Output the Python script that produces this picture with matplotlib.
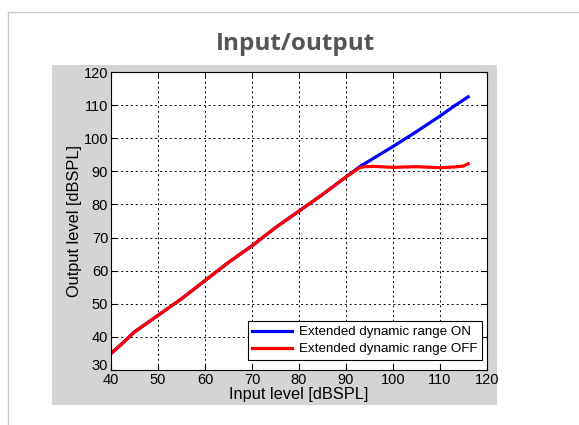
import matplotlib.pyplot as plt
import matplotlib.transforms as mtransforms
from matplotlib.lines import Line2D
from matplotlib.patches import Rectangle

plt.rcParams["font.family"] = ["Liberation Sans", "DejaVu Sans"]

on_x = [40, 42, 45, 50, 55, 60, 65, 70, 75, 80, 85, 90, 93, 95, 100, 105, 110, 113, 116]
on_y = [35, 37.5, 41.5, 46.5, 51.5, 57, 62.5, 67.5, 73, 78, 83, 88.3, 91.5, 93.2, 97.5, 102, 106.7, 109.7, 112.5]
off_x = [40, 42, 45, 50, 55, 60, 65, 70, 75, 80, 85, 90, 93, 94, 96, 100, 105, 110, 113, 115, 116]
off_y = [35, 37.5, 41.5, 46.5, 51.5, 57, 62.5, 67.5, 73, 78, 83, 88.3, 91.2, 91.4, 91.5, 91.2, 91.4, 91.1, 91.3, 91.6, 92.3]

W, H = 579, 425
fig = plt.figure(figsize=(W / 100, H / 100), dpi=100)
fig.patch.set_facecolor("white")

# outer light frame
fig.add_artist(Line2D([8 / W, 1], [1 - 12 / H, 1 - 12 / H], color="#c8c8c8", lw=1))
fig.add_artist(Line2D([8 / W, 8 / W], [0, 1 - 12 / H], color="#c8c8c8", lw=1))

# gray matlab panel
fig.add_artist(Rectangle((52 / W, 1 - 405 / H), (497 - 52) / W, (405 - 65) / H,
                         transform=fig.transFigure, facecolor="#d4d4d4", edgecolor="none", zorder=0))

fig.text(296 / W, 1 - 44 / H, "Input/output", ha="center", va="center",
         fontsize=17.5, fontweight="bold", color="#555555", family=["Open Sans", "DejaVu Sans"])

ax = fig.add_axes([111 / W, 1 - 370 / H, (487 - 111) / W, (370 - 72) / H])
ax.plot(on_x, on_y, color="#0000ff", lw=2.3, label="Extended dynamic range ON")
ax.plot(off_x, off_y, color="#ff0000", lw=2.3, label="Extended dynamic range OFF")

ax.set_xlim(40, 120)
ax.set_ylim(30, 120)
ax.set_xticks(range(40, 121, 10))
ax.set_yticks(range(30, 121, 10))
ax.grid(True, color="black", linestyle=(0, (2, 3)), lw=0.7)
ax.tick_params(direction="in", top=True, right=True, labelsize=10.5, length=4, pad=2)
for s in ax.spines.values():
    s.set_linewidth(0.8)
ax.set_xlabel("Input level [dBSPL]", fontsize=11.8, labelpad=0)
ax.set_ylabel("Output level [dBSPL]", fontsize=11.8, labelpad=1)

# lift the bottom y label a little so it clears the first x label, as in the original
fig.canvas.draw()
lift = mtransforms.ScaledTranslation(0, 5 / 100, fig.dpi_scale_trans)
first = ax.get_yticklabels()[0]
first.set_transform(first.get_transform() + lift)

leg = ax.legend(loc="lower right", bbox_to_anchor=(482 / W, 1 - 360 / H),
                bbox_transform=fig.transFigure, fontsize=9.6, fancybox=False, framealpha=1,
                edgecolor="black", borderaxespad=0, handlelength=3.0, borderpad=0.35,
                labelspacing=0.35, handletextpad=0.5)
leg.get_frame().set_linewidth(0.8)

fig.savefig("out.png", dpi=100)
